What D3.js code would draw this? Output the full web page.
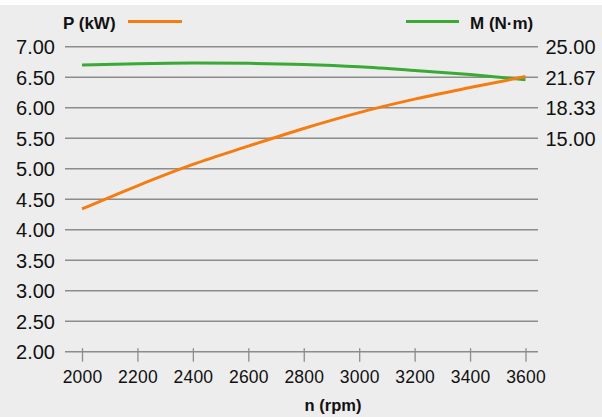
<!DOCTYPE html>
<html><head><meta charset="utf-8">
<script src="https://cdn.jsdelivr.net/npm/d3@7"></script>
<style>
html,body{margin:0;padding:0;background:#fff;}
svg{display:block;}
text{font-family:"Liberation Sans",Arial,Helvetica,sans-serif;fill:#111;}
</style></head>
<body>
<svg id="chart" width="602" height="417"></svg>
<script>
const rpm = [2000, 2200, 2400, 2600, 2800, 3000, 3200, 3400, 3600];
const powerKW = [4.34, 4.72, 5.07, 5.37, 5.66, 5.92, 6.14, 6.33, 6.51];
const torqueNm = [23.0, 23.15, 23.22, 23.18, 23.05, 22.8, 22.4, 21.95, 21.4];
const leftTicks = [2.0, 2.5, 3.0, 3.5, 4.0, 4.5, 5.0, 5.5, 6.0, 6.5, 7.0];
const rightTicks = [15.0, 18.333, 21.667, 25.0];
const xTicks = [2000, 2200, 2400, 2600, 2800, 3000, 3200, 3400, 3600];

const svg = d3.select("#chart");
svg.append("rect").attr("x",0).attr("y",5).attr("width",602).attr("height",412).attr("fill","#ededed");

const x = d3.scaleLinear().domain([2000,3600]).range([82,525.5]);
const yL = d3.scaleLinear().domain([2,7]).range([351.7,46.7]);
const yR = d3.scaleLinear().domain([25-5*20/3, 25]).range([351.7,46.7]);
const gridL = 65, gridR = 538;

// gridlines
svg.append("g").selectAll("line").data(leftTicks).join("line")
  .attr("x1",gridL).attr("x2",gridR)
  .attr("y1",d=>yL(d)).attr("y2",d=>yL(d))
  .attr("stroke","#8c8c8c").attr("stroke-width",1.6);

// left labels
svg.append("g").selectAll("text").data(leftTicks).join("text")
  .attr("x",55).attr("y",d=>yL(d)+7.5)
  .attr("text-anchor","end").attr("font-size",20)
  .text(d=>d3.format(".2f")(d));

// right labels
svg.append("g").selectAll("text").data(rightTicks).join("text")
  .attr("x",545.5).attr("y",d=>yR(d)+7.5)
  .attr("text-anchor","start").attr("font-size",20)
  .text(d=>d3.format(".2f")(d));

// x ticks
const xAxis = d3.axisBottom(x).tickValues(xTicks).tickSize(10).tickPadding(9).tickFormat(d3.format("d"));
const gx = svg.append("g").attr("transform","translate(0,351.7)").call(xAxis);
gx.select(".domain").remove();
gx.selectAll(".tick line").attr("stroke","#8c8c8c").attr("stroke-width",1.3).attr("y1",-3.5);
gx.selectAll(".tick text").attr("font-size",17.5).attr("font-family","Liberation Sans, Arial, sans-serif").attr("fill","#111").attr("letter-spacing","0.2px");

// x axis title
svg.append("text").attr("x",333).attr("y",411).attr("text-anchor","middle")
  .attr("font-size",16.5).attr("font-weight","bold").text("n (rpm)");

// lines
const lineP = d3.line().x((d,i)=>x(rpm[i])).y(d=>yL(d)).curve(d3.curveMonotoneX);
const lineM = d3.line().x((d,i)=>x(rpm[i])).y(d=>yR(d)).curve(d3.curveMonotoneX);
svg.append("path").datum(torqueNm).attr("d",lineM).attr("fill","none")
  .attr("stroke","#3aa935").attr("stroke-width",3);
svg.append("path").datum(powerKW).attr("d",lineP).attr("fill","none")
  .attr("stroke","#f57c10").attr("stroke-width",3);

// legends
svg.append("text").attr("x",63).attr("y",29).attr("font-size",17).attr("font-weight","bold").text("P (kW)");
svg.append("line").attr("x1",128).attr("x2",182).attr("y1",21.5).attr("y2",21.5)
  .attr("stroke","#f57c10").attr("stroke-width",3);
svg.append("line").attr("x1",406).attr("x2",459).attr("y1",21.5).attr("y2",21.5)
  .attr("stroke","#3aa935").attr("stroke-width",3);
svg.append("text").attr("x",470).attr("y",29).attr("font-size",17).attr("font-weight","bold").text("M (N·m)");
</script>
</body></html>
